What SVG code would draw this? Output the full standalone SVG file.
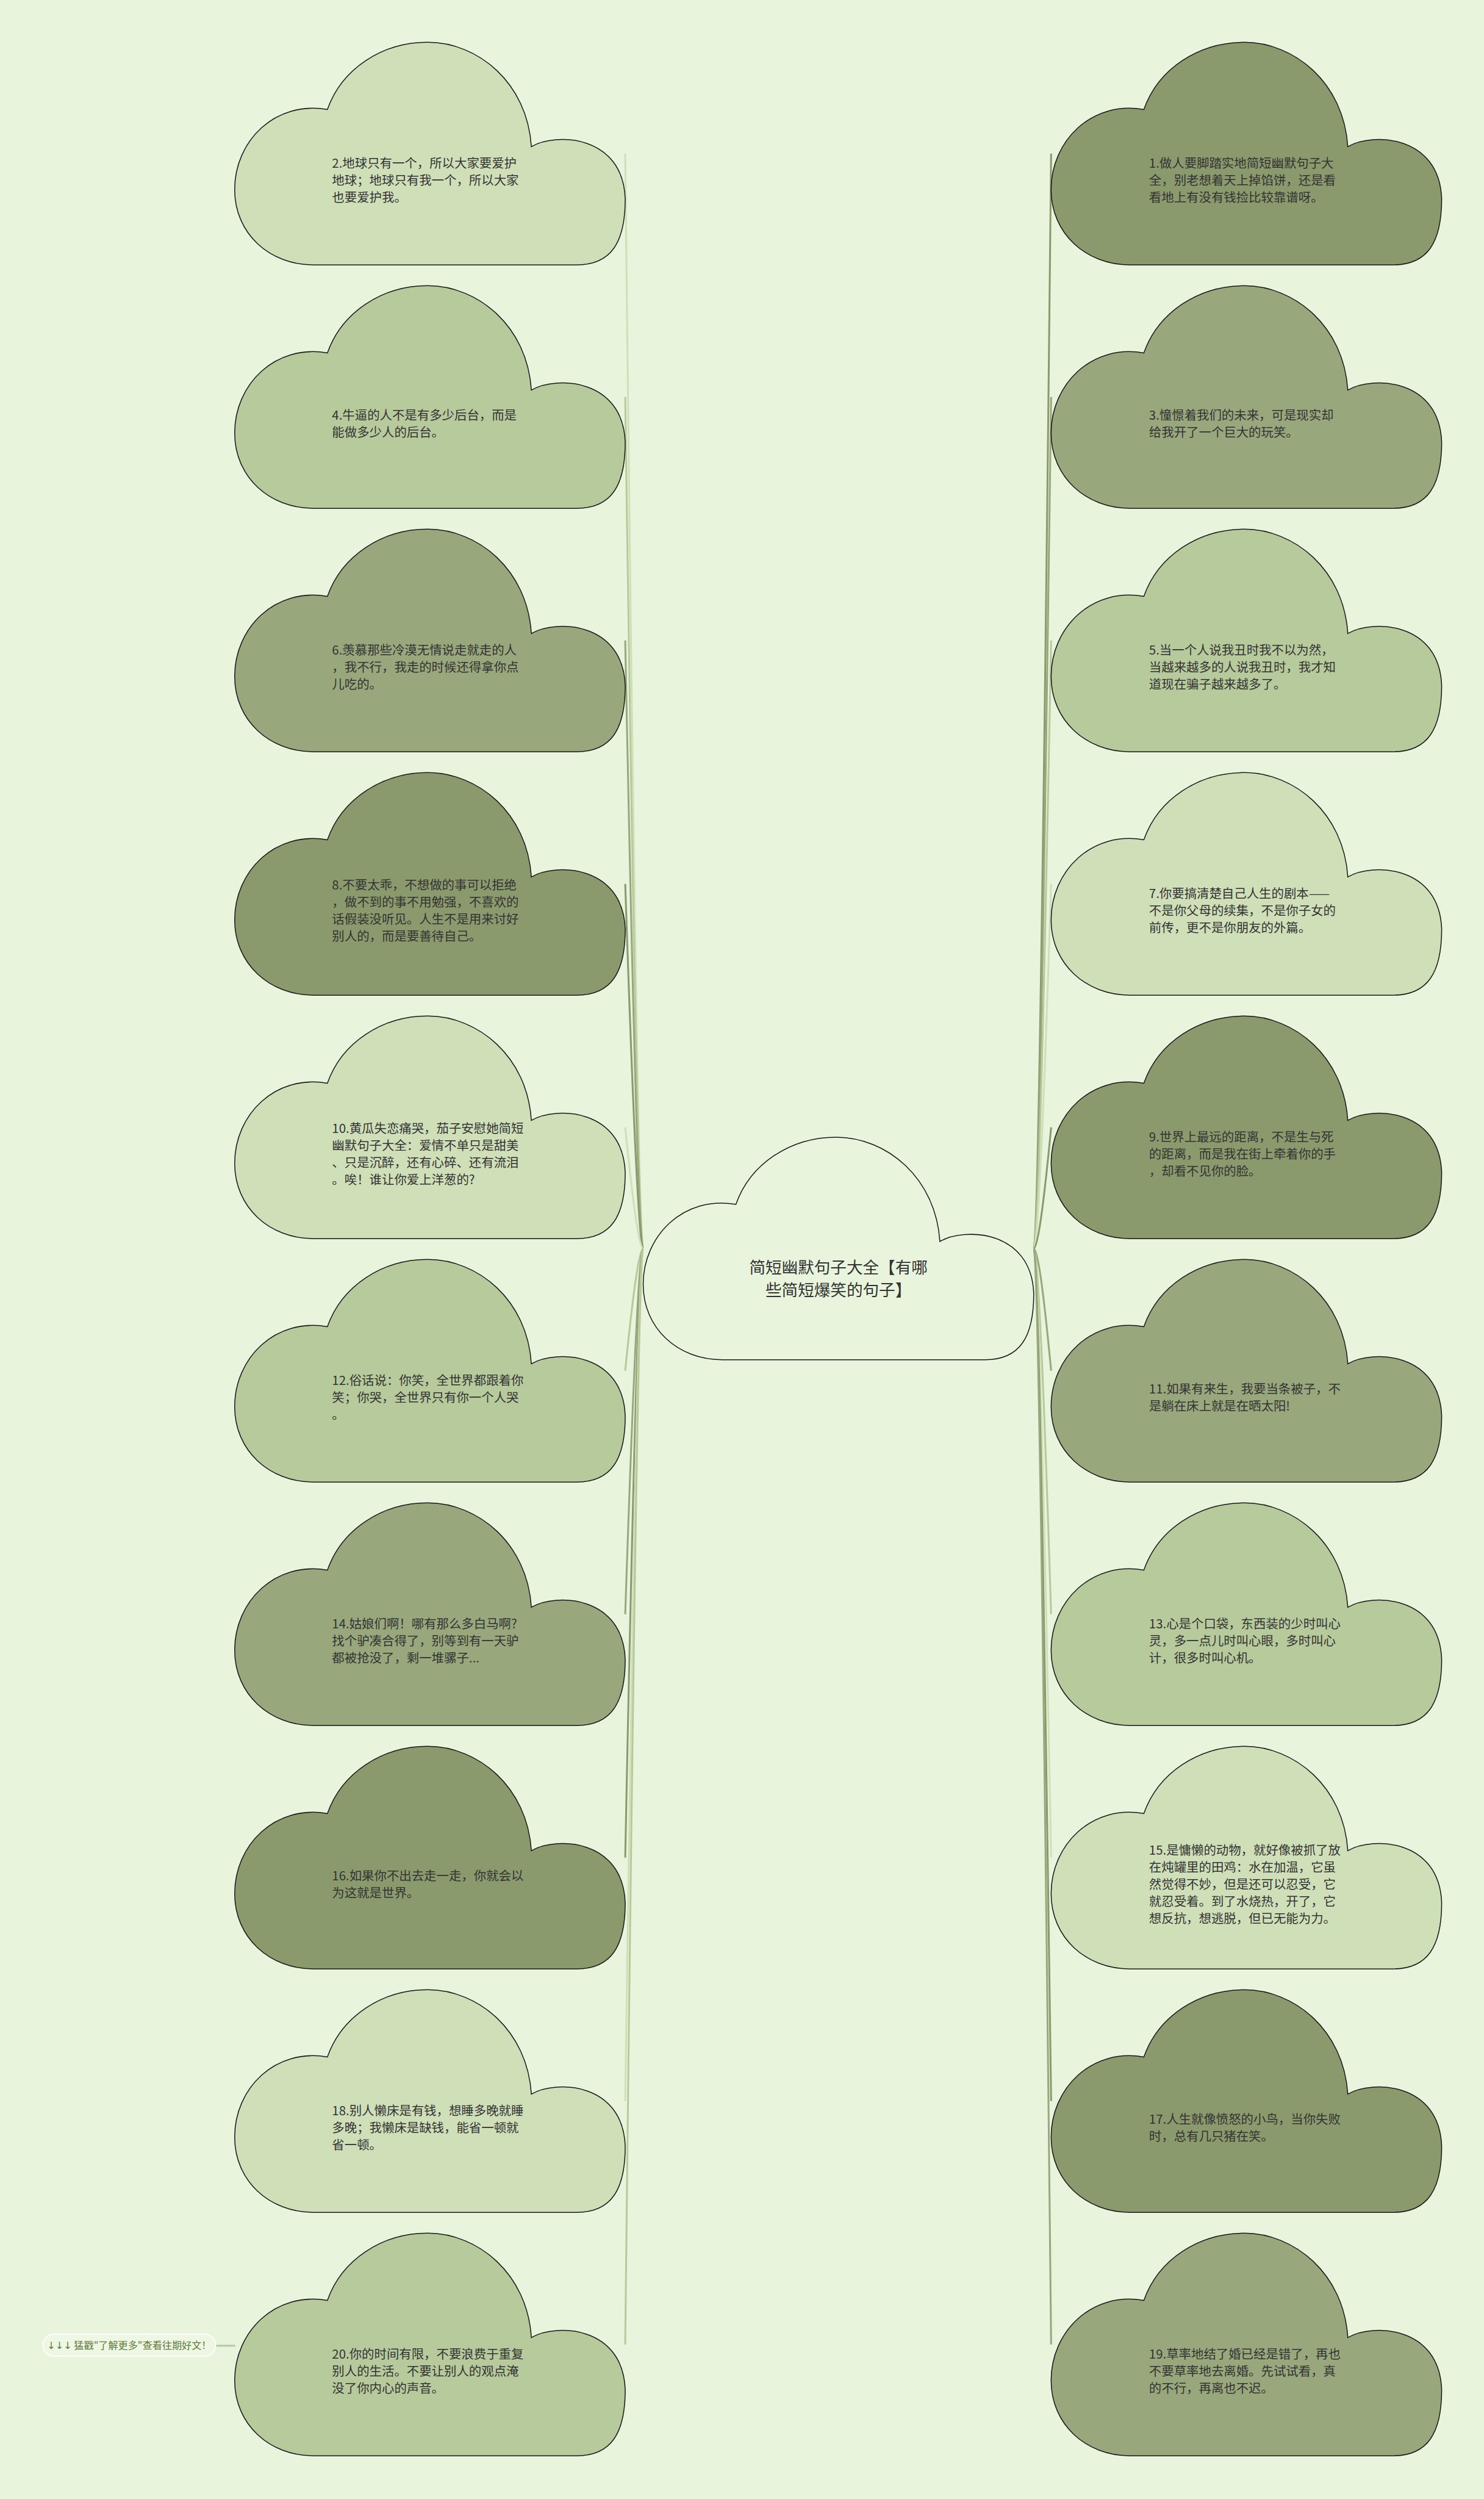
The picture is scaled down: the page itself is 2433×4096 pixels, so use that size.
<svg xmlns="http://www.w3.org/2000/svg" xmlns:xlink="http://www.w3.org/1999/xlink" width="2433" height="4096" viewBox="0 0 2433 4096">
<style>
.bg{fill:#e8f5dc}
.cl{stroke:#1a1a1a;stroke-width:1.6}
.L{fill:#cfe0b9}.ML{fill:#b7ca9c}.MD{fill:#98a87c}.D{fill:#8a9a6c}.C{fill:#e8f5dc}
.t{font-family:"Noto Sans CJK SC","Noto Sans",sans-serif;font-size:21.5px;fill:#333}
.ct{font-family:"Noto Sans CJK SC","Noto Sans",sans-serif;font-size:28px;fill:#333;text-anchor:middle}
.cn{fill:none;stroke-width:3.2}
.sL{stroke:#cfe0b9}.sML{stroke:#b7ca9c}.sMD{stroke:#98a87c}.sD{stroke:#8a9a6c}
.ft{font-family:"Noto Sans CJK SC","Noto Sans",sans-serif;font-size:17px;fill:#5f7a3c;text-anchor:middle}
.ar{font-family:"DejaVu Sans","Liberation Sans",sans-serif}
</style>
<defs>
<path id="cloud" d="M160,116 C185,45 255,0 333,0 C420,0 505,70 512,180 C555,155 670,160 674,270 C674,345 650,384 590,384 L136,384 C60,384 0,330 0,254 C0,170 70,100 160,116 Z"/>
</defs>
<rect class="bg" x="0" y="0" width="2433" height="4096"/>
<g transform="scale(0.95)">
<g id="connectors">
<path class="cn sL" d="M1110,2154 Q1100,2154 1079,265"/>
<path class="cn sML" d="M1110,2154 Q1100,2154 1079,685"/>
<path class="cn sMD" d="M1110,2154 Q1100,2154 1079,1105"/>
<path class="cn sD" d="M1110,2154 Q1100,2154 1079,1525"/>
<path class="cn sL" d="M1110,2154 Q1100,2154 1079,1945"/>
<path class="cn sML" d="M1110,2154 Q1100,2154 1079,2365"/>
<path class="cn sMD" d="M1110,2154 Q1100,2154 1079,2785"/>
<path class="cn sD" d="M1110,2154 Q1100,2154 1079,3205"/>
<path class="cn sL" d="M1110,2154 Q1100,2154 1079,3625"/>
<path class="cn sML" d="M1110,2154 Q1100,2154 1079,4045"/>
<path class="cn sD" d="M1784,2154 Q1794,2154 1814,265"/>
<path class="cn sMD" d="M1784,2154 Q1794,2154 1814,685"/>
<path class="cn sML" d="M1784,2154 Q1794,2154 1814,1105"/>
<path class="cn sL" d="M1784,2154 Q1794,2154 1814,1525"/>
<path class="cn sD" d="M1784,2154 Q1794,2154 1814,1945"/>
<path class="cn sMD" d="M1784,2154 Q1794,2154 1814,2365"/>
<path class="cn sML" d="M1784,2154 Q1794,2154 1814,2785"/>
<path class="cn sL" d="M1784,2154 Q1794,2154 1814,3205"/>
<path class="cn sD" d="M1784,2154 Q1794,2154 1814,3625"/>
<path class="cn sMD" d="M1784,2154 Q1794,2154 1814,4045"/>
<path class="cn sML" stroke-width="4" d="M372,4047 L406,4047"/>
</g>
<g id="center">
<use xlink:href="#cloud" href="#cloud" x="1110" y="1962" class="cl C"/>
<text class="ct"><tspan x="1447" y="2197">简短幽默句子大全【有哪</tspan><tspan x="1447" y="2236">些简短爆笑的句子】</tspan></text>
</g>
<g id="n1">
<use href="#cloud" x="1814" y="73" class="cl D"/>
<text class="t"><tspan x="1983" y="289.5">1.做人要脚踏实地简短幽默句子大</tspan><tspan x="1983" y="319">全，别老想着天上掉馅饼，还是看</tspan><tspan x="1983" y="348.5">看地上有没有钱捡比较靠谱呀。</tspan></text>
</g>
<g id="n2">
<use href="#cloud" x="405" y="73" class="cl L"/>
<text class="t"><tspan x="573" y="289.5">2.地球只有一个，所以大家要爱护</tspan><tspan x="573" y="319">地球；地球只有我一个，所以大家</tspan><tspan x="573" y="348.5">也要爱护我。</tspan></text>
</g>
<g id="n3">
<use href="#cloud" x="1814" y="493" class="cl MD"/>
<text class="t"><tspan x="1983" y="724.25">3.憧憬着我们的未来，可是现实却</tspan><tspan x="1983" y="753.75">给我开了一个巨大的玩笑。</tspan></text>
</g>
<g id="n4">
<use href="#cloud" x="405" y="493" class="cl ML"/>
<text class="t"><tspan x="573" y="724.25">4.牛逼的人不是有多少后台，而是</tspan><tspan x="573" y="753.75">能做多少人的后台。</tspan></text>
</g>
<g id="n5">
<use href="#cloud" x="1814" y="913" class="cl ML"/>
<text class="t"><tspan x="1983" y="1129.5">5.当一个人说我丑时我不以为然，</tspan><tspan x="1983" y="1159">当越来越多的人说我丑时，我才知</tspan><tspan x="1983" y="1188.5">道现在骗子越来越多了。</tspan></text>
</g>
<g id="n6">
<use href="#cloud" x="405" y="913" class="cl MD"/>
<text class="t"><tspan x="573" y="1129.5">6.羡慕那些冷漠无情说走就走的人</tspan><tspan x="573" y="1159">，我不行，我走的时候还得拿你点</tspan><tspan x="573" y="1188.5">儿吃的。</tspan></text>
</g>
<g id="n7">
<use href="#cloud" x="1814" y="1333" class="cl L"/>
<text class="t"><tspan x="1983" y="1549.5">7.你要搞清楚自己人生的剧本——</tspan><tspan x="1983" y="1579">不是你父母的续集，不是你子女的</tspan><tspan x="1983" y="1608.5">前传，更不是你朋友的外篇。</tspan></text>
</g>
<g id="n8">
<use href="#cloud" x="405" y="1333" class="cl D"/>
<text class="t"><tspan x="573" y="1534.75">8.不要太乖，不想做的事可以拒绝</tspan><tspan x="573" y="1564.25">，做不到的事不用勉强，不喜欢的</tspan><tspan x="573" y="1593.75">话假装没听见。人生不是用来讨好</tspan><tspan x="573" y="1623.25">别人的，而是要善待自己。</tspan></text>
</g>
<g id="n9">
<use href="#cloud" x="1814" y="1753" class="cl D"/>
<text class="t"><tspan x="1983" y="1969.5">9.世界上最远的距离，不是生与死</tspan><tspan x="1983" y="1999">的距离，而是我在街上牵着你的手</tspan><tspan x="1983" y="2028.5">，却看不见你的脸。</tspan></text>
</g>
<g id="n10">
<use href="#cloud" x="405" y="1753" class="cl L"/>
<text class="t"><tspan x="573" y="1954.75">10.黄瓜失恋痛哭，茄子安慰她简短</tspan><tspan x="573" y="1984.25">幽默句子大全：爱情不单只是甜美</tspan><tspan x="573" y="2013.75">、只是沉醉，还有心碎、还有流泪</tspan><tspan x="573" y="2043.25">。唉！谁让你爱上洋葱的?</tspan></text>
</g>
<g id="n11">
<use href="#cloud" x="1814" y="2173" class="cl MD"/>
<text class="t"><tspan x="1983" y="2404.25">11.如果有来生，我要当条被子，不</tspan><tspan x="1983" y="2433.75">是躺在床上就是在晒太阳!</tspan></text>
</g>
<g id="n12">
<use href="#cloud" x="405" y="2173" class="cl ML"/>
<text class="t"><tspan x="573" y="2389.5">12.俗话说：你笑，全世界都跟着你</tspan><tspan x="573" y="2419">笑；你哭，全世界只有你一个人哭</tspan><tspan x="573" y="2448.5">。</tspan></text>
</g>
<g id="n13">
<use href="#cloud" x="1814" y="2593" class="cl ML"/>
<text class="t"><tspan x="1983" y="2809.5">13.心是个口袋，东西装的少时叫心</tspan><tspan x="1983" y="2839">灵，多一点儿时叫心眼，多时叫心</tspan><tspan x="1983" y="2868.5">计，很多时叫心机。</tspan></text>
</g>
<g id="n14">
<use href="#cloud" x="405" y="2593" class="cl MD"/>
<text class="t"><tspan x="573" y="2809.5">14.姑娘们啊！哪有那么多白马啊?</tspan><tspan x="573" y="2839">找个驴凑合得了，别等到有一天驴</tspan><tspan x="573" y="2868.5">都被抢没了，剩一堆骡子...</tspan></text>
</g>
<g id="n15">
<use href="#cloud" x="1814" y="3013" class="cl L"/>
<text class="t"><tspan x="1983" y="3200">15.是慵懒的动物，就好像被抓了放</tspan><tspan x="1983" y="3229.5">在炖罐里的田鸡：水在加温，它虽</tspan><tspan x="1983" y="3259">然觉得不妙，但是还可以忍受，它</tspan><tspan x="1983" y="3288.5">就忍受着。到了水烧热，开了，它</tspan><tspan x="1983" y="3318">想反抗，想逃脱，但已无能为力。</tspan></text>
</g>
<g id="n16">
<use href="#cloud" x="405" y="3013" class="cl D"/>
<text class="t"><tspan x="573" y="3244.25">16.如果你不出去走一走，你就会以</tspan><tspan x="573" y="3273.75">为这就是世界。</tspan></text>
</g>
<g id="n17">
<use href="#cloud" x="1814" y="3433" class="cl D"/>
<text class="t"><tspan x="1983" y="3664.25">17.人生就像愤怒的小鸟，当你失败</tspan><tspan x="1983" y="3693.75">时，总有几只猪在笑。</tspan></text>
</g>
<g id="n18">
<use href="#cloud" x="405" y="3433" class="cl L"/>
<text class="t"><tspan x="573" y="3649.5">18.别人懒床是有钱，想睡多晚就睡</tspan><tspan x="573" y="3679">多晚；我懒床是缺钱，能省一顿就</tspan><tspan x="573" y="3708.5">省一顿。</tspan></text>
</g>
<g id="n19">
<use href="#cloud" x="1814" y="3853" class="cl MD"/>
<text class="t"><tspan x="1983" y="4069.5">19.草率地结了婚已经是错了，再也</tspan><tspan x="1983" y="4099">不要草率地去离婚。先试试看，真</tspan><tspan x="1983" y="4128.5">的不行，再离也不迟。</tspan></text>
</g>
<g id="n20">
<use href="#cloud" x="405" y="3853" class="cl ML"/>
<text class="t"><tspan x="573" y="4069.5">20.你的时间有限，不要浪费于重复</tspan><tspan x="573" y="4099">别人的生活。不要让别人的观点淹</tspan><tspan x="573" y="4128.5">没了你内心的声音。</tspan></text>
</g>
<g id="footer">
<rect x="74" y="4027" width="298" height="38" rx="19" fill="#edf7e4" stroke="#ffffff" stroke-width="2"/>
<text class="ft" x="223" y="4053"><tspan class="ar">↓↓↓</tspan> 猛戳"了解更多"查看往期好文！</text>
</g>
</g>
</svg>
